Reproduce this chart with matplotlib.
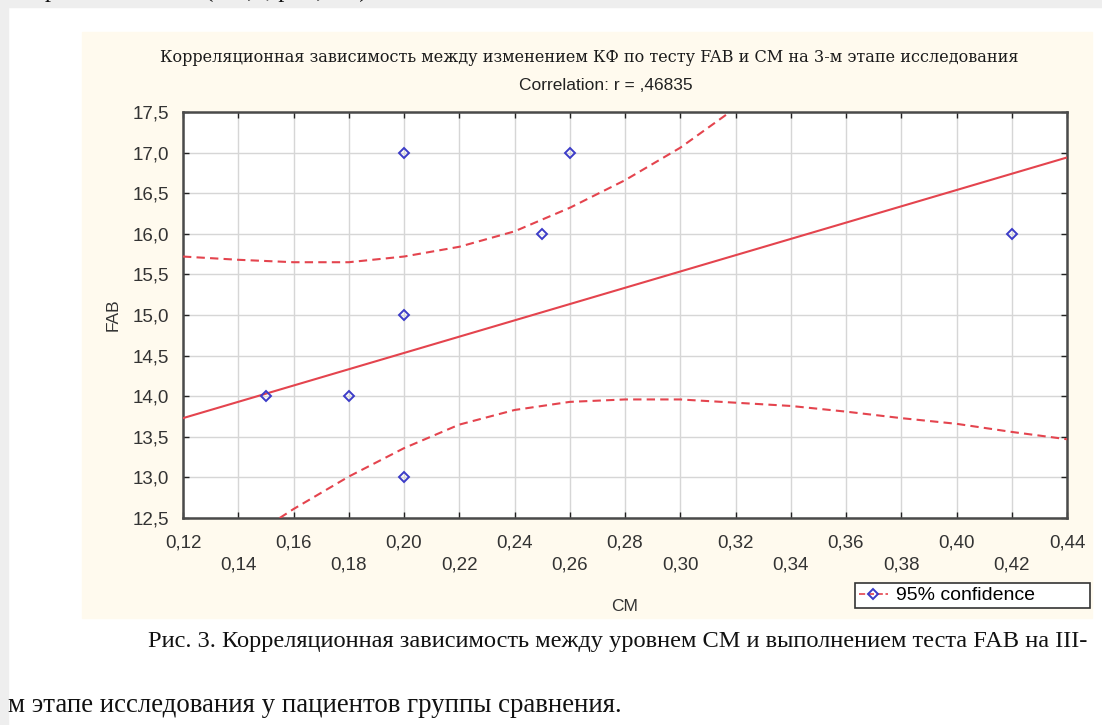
import matplotlib
matplotlib.use("Agg")
import matplotlib.pyplot as plt
from matplotlib.lines import Line2D
from matplotlib.patches import Rectangle

# === data ===
cm = [0.15, 0.18, 0.20, 0.20, 0.20, 0.25, 0.26, 0.42]
fab = [14.0, 14.0, 17.0, 15.0, 13.0, 16.0, 17.0, 16.0]

fit_x = [0.12, 0.44]
fit_y = [13.73, 16.94]

ci_up_x = [0.12, 0.14, 0.16, 0.18, 0.20, 0.22, 0.24, 0.26, 0.28, 0.30, 0.318]
ci_up_y = [15.72, 15.68, 15.65, 15.65, 15.72, 15.84, 16.03, 16.32, 16.66, 17.06, 17.5]

ci_lo_x = [0.155, 0.16, 0.18, 0.20, 0.22, 0.24, 0.26, 0.28, 0.30, 0.32,
           0.34, 0.36, 0.38, 0.40, 0.42, 0.44]
ci_lo_y = [12.5, 12.61, 13.01, 13.36, 13.65, 13.83, 13.93, 13.96, 13.96, 13.92,
           13.88, 13.81, 13.73, 13.66, 13.56, 13.47]

x_ticks = [0.12, 0.14, 0.16, 0.18, 0.20, 0.22, 0.24, 0.26, 0.28,
           0.30, 0.32, 0.34, 0.36, 0.38, 0.40, 0.42, 0.44]
y_ticks = [12.5, 13.0, 13.5, 14.0, 14.5, 15.0, 15.5, 16.0, 16.5, 17.0, 17.5]

title_1 = "Корреляционная зависимость между изменением КФ по тесту FAB и СМ на 3-м этапе исследования"
title_2 = "Correlation: r = ,46835"
caption_1 = "Рис. 3. Корреляционная зависимость между уровнем СМ и выполнением теста FAB на III-"
caption_2 = "м этапе исследования у пациентов группы сравнения."
top_cut = "рованная связь (r=0,3; p=0,555)."

W, H = 1102, 725
RED = "#e4444e"
BLUE = "#3c3cc8"
SANS = "Liberation Sans"
SERIF = "Liberation Serif"


def fx(px):
    return px / W


def fy(py):
    return 1 - py / H


fig = plt.figure(figsize=(W / 100, H / 100), dpi=100)
fig.patch.set_facecolor("white")

# page background bits: grey margins and the cream chart panel (behind the axes)
for rect in [
    Rectangle((0, 0), fx(8), 1, color="#eeeeee"),
    Rectangle((0, fy(7)), 1, 7 / H, color="#eeeeee"),
    Rectangle((fx(82), fy(618)), (1092 - 82) / W, (618 - 32) / H, color="#fffaee"),
]:
    rect.set_transform(fig.transFigure)
    rect.set_zorder(-10)
    fig.add_artist(rect)

ax = fig.add_axes([fx(183), fy(518), 884 / W, 406 / H])
ax.set_facecolor("white")

ax.plot(fit_x, fit_y, color=RED, lw=1.5, zorder=3)
ax.plot(ci_up_x, ci_up_y, color=RED, lw=1.5, ls=(0, (4, 2.5)), zorder=3)
ax.plot(ci_lo_x, ci_lo_y, color=RED, lw=1.5, ls=(0, (4, 2.5)), zorder=3)
ax.plot(cm, fab, ls="none", marker="D", ms=5.5, mfc="none", mec=BLUE, mew=1.4, zorder=4)

ax.set_xlim(0.12, 0.44)
ax.set_ylim(12.5, 17.5)
ax.set_xticks(x_ticks)
ax.set_xticklabels([("" if i % 2 == 0 else "\n") + f"{v:.2f}".replace(".", ",")
                    for i, v in enumerate(x_ticks)])
ax.set_yticks(y_ticks)
ax.set_yticklabels([f"{v:.1f}".replace(".", ",") for v in y_ticks])
ax.tick_params(direction="in", top=True, right=True, length=4, width=1,
               color="#222222", labelsize=13.5, labelcolor="#333333")
ax.tick_params(axis="x", pad=12)
ax.tick_params(axis="y", pad=10)
for lab in ax.get_xticklabels() + ax.get_yticklabels():
    lab.set_fontfamily(SANS)
    lab.set_linespacing(1.4)
ax.grid(True, color="#d6d6d6", lw=1)
ax.set_axisbelow(True)
for sp in ax.spines.values():
    sp.set_color("#4a4a4a")
    sp.set_linewidth(1.8)

ax.set_xlabel("CM", fontfamily=SANS, fontsize=12.5, color="#333333")
ax.xaxis.set_label_coords((625 - 183) / 884, (518 - 599) / 406)
ax.set_ylabel("FAB", fontfamily=SANS, fontsize=12.5, color="#333333")
ax.yaxis.set_label_coords((121 - 183) / 884, 0.5)

fig.text(fx(589), fy(58), title_1, ha="center", va="center",
         fontfamily="DejaVu Serif", fontsize=11.6, color="#1a1a1a")
fig.text(fx(606), fy(86), title_2, ha="center", va="center",
         fontfamily=SANS, fontsize=12.5, color="#222222")

handle = Line2D([], [], color=RED, ls="--", lw=1.2, marker="D", ms=5,
                mfc="none", mec=BLUE, mew=1.4)
leg = fig.legend([handle], ["95% confidence"], loc="upper left",
                 bbox_to_anchor=(fx(855), fy(613), (1090 - 855) / W, (613 - 583) / H),
                 bbox_transform=fig.transFigure, mode="expand", borderaxespad=0,
                 fancybox=False, framealpha=1, edgecolor="#333333",
                 prop={"family": SANS, "size": 14}, handlelength=1.5,
                 handletextpad=0.4, borderpad=0.2)
leg.get_frame().set_linewidth(1.2)

fig.text(fx(148), fy(641), caption_1, ha="left", va="center",
         fontfamily=SERIF, fontsize=17.6, color="#111111")
fig.text(fx(8), fy(705), caption_2, ha="left", va="center",
         fontfamily=SERIF, fontsize=19.4, color="#111111")
# line of page text above the figure, only its descenders show in the reference
fig.text(fx(45), fy(-3), top_cut, ha="left", va="baseline",
         fontfamily=SERIF, fontsize=17.6, color="#111111")

fig.savefig("out.png", dpi=100)
